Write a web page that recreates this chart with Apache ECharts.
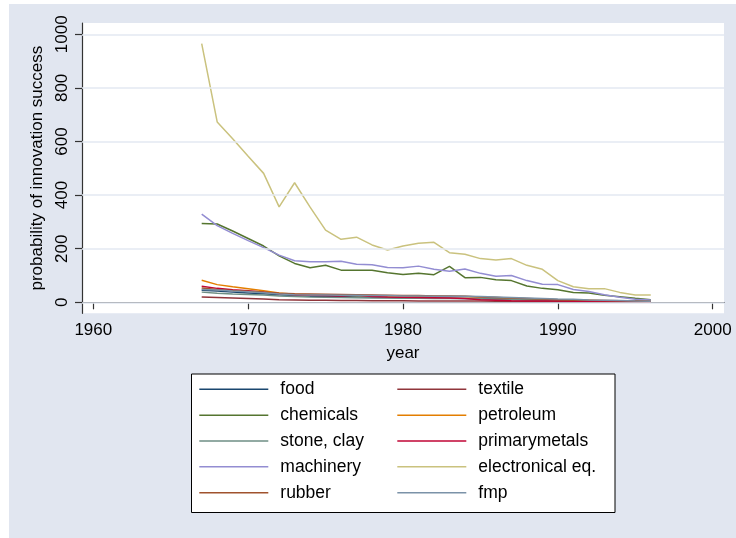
<!DOCTYPE html>
<html>
<head>
<meta charset="utf-8">
<script src="https://cdn.jsdelivr.net/npm/echarts@6/dist/echarts.min.js"></script>
<style>
  html, body { margin: 0; padding: 0; background: #ffffff; }
  #chart { width: 736px; height: 538px; }
</style>
</head>
<body>
<div id="chart"></div>
<script>
// ---- data ----
const years = [1967, 1968, 1969, 1970, 1971, 1972, 1973, 1974, 1975, 1976,
               1977, 1978, 1979, 1980, 1981, 1982, 1983, 1984, 1985, 1986,
               1987, 1988, 1989, 1990, 1991, 1992, 1993, 1994, 1995, 1996];

const food          = [45, 42, 38, 35, 32, 28, 25, 23, 22, 21, 20, 19, 18, 17, 16, 15, 15, 14, 13, 12, 11, 10, 9, 8, 7, 6, 5, 4, 4, 3];
const textile       = [20, 18, 16, 14, 12, 10, 9, 8, 8, 7, 7, 6, 6, 6, 5, 5, 5, 5, 5, 4, 4, 4, 4, 3, 3, 3, 3, 3, 2, 2];
const chemicals     = [294, 292, 266, 238, 210, 173, 145, 129, 138, 120, 120, 120, 110, 104, 108, 103, 134, 92, 93, 84, 81, 61, 52, 47, 37, 35, 26, 21, 15, 10];
const petroleum     = [82, 66, 58, 51, 43, 35, 30, 28, 27, 26, 25, 25, 24, 24, 23, 23, 22, 22, 20, 18, 15, 13, 11, 10, 8, 7, 6, 5, 4, 3];
const stoneClay     = [38, 34, 31, 29, 27, 24, 22, 20, 19, 18, 17, 16, 16, 15, 15, 14, 14, 14, 13, 12, 11, 10, 9, 8, 7, 6, 6, 5, 4, 4];
const primaryMetals = [60, 52, 47, 43, 38, 32, 28, 26, 25, 24, 27, 22, 20, 19, 18, 17, 16, 14, 10, 8, 6, 5, 5, 5, 4, 4, 3, 3, 3, 2];
const machinery     = [329, 286, 257, 230, 204, 176, 155, 151, 151, 153, 142, 140, 130, 129, 135, 123, 116, 124, 108, 97, 100, 81, 67, 66, 48, 40, 28, 19, 11, 9];
const electronical  = [965, 673, 610, 545, 481, 356, 446, 355, 269, 235, 243, 214, 195, 210, 220, 224, 185, 179, 163, 158, 163, 138, 123, 81, 58, 51, 51, 37, 27, 27];
const rubber        = [53, 48, 44, 41, 38, 34, 32, 31, 30, 29, 28, 27, 26, 25, 25, 24, 24, 23, 20, 18, 16, 14, 12, 10, 9, 8, 7, 6, 5, 4];
const fmp           = [48, 46, 42, 39, 36, 31, 28, 27, 27, 26, 26, 25, 25, 24, 24, 23, 23, 23, 22, 20, 18, 16, 14, 12, 11, 9, 8, 7, 5, 4];

const yTicks = [0, 200, 400, 600, 800, 1000];
const xTicks = [1960, 1970, 1980, 1990, 2000];

const seriesNames  = ['food', 'textile', 'chemicals', 'petroleum', 'stone, clay',
                      'primarymetals', 'machinery', 'electronical eq.', 'rubber', 'fmp'];
const seriesValues = [food, textile, chemicals, petroleum, stoneClay,
                      primaryMetals, machinery, electronical, rubber, fmp];
const seriesColors = ['#1a476f', '#90353b', '#55752f', '#e37e00', '#6e8e84',
                      '#c10534', '#938dd2', '#cac27e', '#a0522d', '#7b92a8'];

// ---- chart ----
const FONT = '"Liberation Sans", Arial, Helvetica, sans-serif';
const BG = '#e1e6f0';
const GRIDC = '#e3e8f2';
const AXISC = '#333333';

const chart = echarts.init(document.getElementById('chart'), null, { renderer: 'canvas' });

const lineSeries = seriesNames.map((name, i) => ({
  name: name,
  type: 'line',
  symbol: 'none',
  z: 3,
  lineStyle: { color: seriesColors[i], width: 1.5 },
  itemStyle: { color: seriesColors[i] },
  data: years.map((yr, j) => [yr, seriesValues[i][j]])
}));

const gridSeries = {
  type: 'line',
  data: [],
  z: 1,
  silent: true,
  markLine: {
    silent: true,
    symbol: 'none',
    label: { show: false },
    lineStyle: { color: GRIDC, width: 1.6, type: 'solid' },
    data: yTicks.map(v => ({ yAxis: v }))
  }
};

const legendCommon = {
  orient: 'vertical',
  padding: 0,
  itemWidth: 69,
  itemHeight: 14,
  itemGap: 5.85,
  icon: 'path://M0,7 L69,7 L69,8.5 L0,8.5 Z',
  selectedMode: false,
  textStyle: { fontFamily: FONT, fontSize: 17.5, color: '#000', lineHeight: 20, padding: [0, 0, 0, 7] }
};

const plainNum = v => String(v);

chart.setOption({
  backgroundColor: '#ffffff',
  animation: false,
  graphic: [
    { type: 'rect', z: -10, shape: { x: 9, y: 4, width: 727, height: 534 }, style: { fill: BG } },
    { type: 'rect', z: -5, shape: { x: 191.5, y: 374, width: 423.5, height: 138.5 },
      style: { fill: '#ffffff', stroke: '#000000', lineWidth: 1 } }
  ],
  grid: {
    left: 82, top: 23, right: 12, bottom: 224.7,
    show: true, backgroundColor: '#ffffff', borderWidth: 0
  },
  legend: [
    Object.assign({ left: 199.3, top: 379.3, data: ['food', 'chemicals', 'stone, clay', 'machinery', 'rubber'] }, legendCommon),
    Object.assign({ left: 397.3, top: 379.3, data: ['textile', 'petroleum', 'primarymetals', 'electronical eq.', 'fmp'] }, legendCommon)
  ],
  xAxis: {
    type: 'value',
    min: 1959.27, max: 2000.73,
    name: 'year',
    nameLocation: 'middle',
    nameGap: 32,
    nameTextStyle: { fontFamily: FONT, fontSize: 17, color: '#000' },
    axisLine: { show: true, lineStyle: { color: AXISC, width: 1.2 } },
    axisTick: { show: true, length: 7, customValues: xTicks, lineStyle: { color: AXISC, width: 1.2 } },
    axisLabel: { customValues: xTicks, formatter: plainNum, margin: 9, fontFamily: FONT, fontSize: 17, color: '#000' },
    splitLine: { show: false }
  },
  yAxis: {
    type: 'value',
    min: -41, max: 1042,
    name: 'probability of innovation success',
    nameLocation: 'middle',
    nameGap: 35,
    nameRotate: 90,
    nameTextStyle: { fontFamily: FONT, fontSize: 17, color: '#000' },
    axisLine: { show: true, lineStyle: { color: AXISC, width: 1.2 } },
    axisTick: { show: true, length: 7, customValues: yTicks, lineStyle: { color: AXISC, width: 1.2 } },
    axisLabel: { customValues: yTicks, formatter: plainNum, rotate: 90, margin: 11, fontFamily: FONT, fontSize: 17, color: '#000' },
    splitLine: { show: false }
  },
  series: [gridSeries].concat(lineSeries)
});
</script>
</body>
</html>
